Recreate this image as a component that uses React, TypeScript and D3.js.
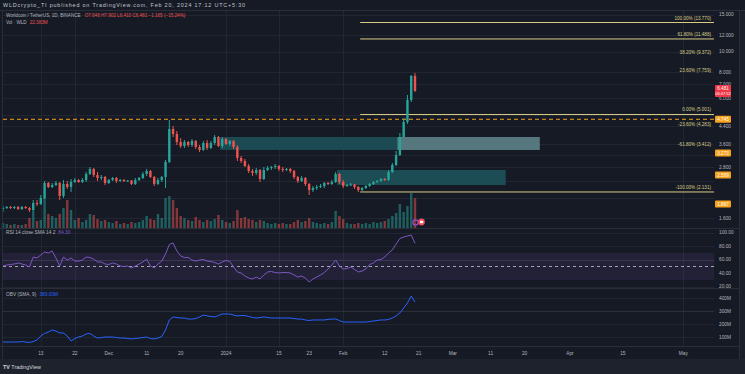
import React from "react";
import * as d3 from "d3";

// ---------- data ----------
const HEADER = "WLDcrypto_TI published on TradingView.com, Feb 20, 2024 17:12 UTC+5:30";
const SYMBOL = "Worldcoin / TetherUS, 1D, BINANCE";
const VOL_NAME = "Vol · WLD";

const OPEN = [
  1.767, 1.786, 1.806, 1.786, 1.806, 1.767, 1.806, 1.786, 1.747, 1.887,
  1.867, 1.994, 2.352, 2.251, 2.301, 2.352, 2.039, 2.327, 2.251, 2.379,
  2.432, 2.379, 2.432, 2.598, 2.745, 2.569, 2.486, 2.513, 2.352, 2.432,
  2.486, 2.405, 2.432, 2.405, 2.418, 2.327, 2.432, 2.486, 2.598, 2.685,
  2.513, 2.327, 2.432, 2.513, 2.965, 4.264, 4.035, 3.695, 3.536, 3.695,
  3.575, 3.736, 3.497, 3.384, 3.655, 3.459, 3.655, 3.904, 3.536, 3.819,
  3.615, 3.736, 3.497, 3.098, 2.997, 2.837, 2.685, 2.626, 2.715, 2.458,
  2.715, 2.775, 2.806, 2.837, 2.745, 2.715, 2.745, 2.685, 2.513, 2.405,
  2.486, 2.327, 2.178, 2.226, 2.251, 2.276, 2.352, 2.327, 2.379, 2.598,
  2.379, 2.276, 2.301, 2.314, 2.251, 2.178, 2.226, 2.276, 2.327, 2.379,
  2.405, 2.458, 2.432, 2.655, 2.868, 3.202, 3.904, 4.605, 5.869, 7.646,
];
const HIGH = [
  1.826, 1.826, 1.826, 1.826, 1.826, 1.826, 1.826, 1.806, 1.951, 1.951,
  2.061, 2.405, 2.379, 2.352, 2.405, 2.379, 2.432, 2.405, 2.458, 2.486,
  2.458, 2.486, 2.655, 2.806, 2.775, 2.655, 2.569, 2.541, 2.458, 2.513,
  2.513, 2.458, 2.458, 2.432, 2.432, 2.486, 2.513, 2.655, 2.745, 2.715,
  2.541, 2.486, 2.541, 3.031, 4.708, 4.407, 4.171, 3.862, 3.777, 3.736,
  3.819, 3.777, 3.575, 3.736, 3.777, 3.736, 3.991, 3.948, 3.904, 3.862,
  3.777, 3.777, 3.575, 3.167, 3.064, 2.900, 2.745, 2.775, 2.745, 2.806,
  2.837, 2.837, 2.900, 2.868, 2.806, 2.775, 2.775, 2.715, 2.541, 2.541,
  2.513, 2.352, 2.276, 2.301, 2.327, 2.379, 2.379, 2.432, 2.655, 2.626,
  2.432, 2.327, 2.352, 2.327, 2.276, 2.251, 2.301, 2.352, 2.405, 2.432,
  2.486, 2.486, 2.715, 2.932, 3.346, 4.080, 4.813, 6.201, 7.730, 7.902,
];
const LOW = [
  1.709, 1.767, 1.767, 1.767, 1.747, 1.747, 1.767, 1.709, 1.728, 1.826,
  1.846, 1.972, 2.226, 2.226, 2.276, 1.951, 1.994, 2.202, 2.131, 2.352,
  2.352, 2.352, 2.379, 2.569, 2.513, 2.405, 2.432, 2.301, 2.327, 2.405,
  2.352, 2.379, 2.379, 2.379, 2.301, 2.301, 2.405, 2.458, 2.541, 2.486,
  2.276, 2.301, 2.379, 2.226, 2.932, 3.904, 3.575, 3.459, 3.459, 3.497,
  3.497, 3.421, 3.309, 3.346, 3.384, 3.421, 3.575, 3.497, 3.459, 3.575,
  3.536, 3.421, 2.997, 2.932, 2.806, 2.626, 2.541, 2.569, 2.379, 2.432,
  2.685, 2.715, 2.745, 2.685, 2.655, 2.685, 2.626, 2.458, 2.352, 2.379,
  2.276, 2.061, 2.131, 2.178, 2.226, 2.226, 2.301, 2.301, 2.352, 2.327,
  2.226, 2.251, 2.276, 2.202, 2.131, 2.154, 2.202, 2.251, 2.301, 2.352,
  2.379, 2.405, 2.405, 2.626, 2.837, 3.167, 3.862, 4.505, 5.741, 6.410,
];
const CLOSE = [
  1.786, 1.806, 1.786, 1.806, 1.767, 1.806, 1.786, 1.747, 1.887, 1.867,
  1.994, 2.352, 2.251, 2.301, 2.352, 2.039, 2.327, 2.251, 2.379, 2.432,
  2.379, 2.432, 2.598, 2.745, 2.569, 2.486, 2.513, 2.352, 2.432, 2.486,
  2.405, 2.432, 2.405, 2.418, 2.327, 2.432, 2.486, 2.598, 2.685, 2.513,
  2.327, 2.432, 2.513, 2.965, 4.264, 4.035, 3.695, 3.536, 3.695, 3.575,
  3.736, 3.497, 3.384, 3.655, 3.459, 3.655, 3.904, 3.536, 3.819, 3.615,
  3.736, 3.497, 3.098, 2.997, 2.837, 2.685, 2.626, 2.715, 2.458, 2.715,
  2.775, 2.806, 2.837, 2.745, 2.715, 2.745, 2.685, 2.513, 2.405, 2.486,
  2.327, 2.178, 2.226, 2.251, 2.276, 2.352, 2.327, 2.379, 2.598, 2.379,
  2.276, 2.301, 2.314, 2.251, 2.178, 2.226, 2.276, 2.327, 2.379, 2.405,
  2.458, 2.432, 2.655, 2.868, 3.202, 3.904, 4.605, 5.869, 7.646, 6.481,
];
// volume in millions
const VOLUME = [
  3.75, 3, 2.25, 3, 2.25, 2.25, 3, 7.5, 12.75, 5.25,
  6, 22.5, 10.5, 9, 7.5, 10.5, 15, 21, 13.5, 6,
  7.5, 4.5, 6, 10.5, 9.75, 6.75, 5.25, 6, 4.5, 3.75,
  5.25, 3, 3.75, 3, 4.5, 3.75, 4.5, 6, 9, 6.75,
  6, 10.5, 7.5, 22.5, 24, 21, 15, 9, 7.5, 6,
  5.25, 8.25, 6, 4.5, 6, 5.25, 6.75, 9.75, 6, 4.5,
  3.75, 5.25, 13.5, 7.5, 8.25, 6.75, 6, 4.5, 6, 5.25,
  3.75, 3, 3.75, 3, 3.75, 3, 3, 4.5, 6, 4.5,
  5.25, 7.5, 4.5, 3.75, 3, 3.75, 3, 4.5, 12.75, 9,
  6.75, 3.75, 3, 3, 3.75, 3, 3.75, 3, 4.5, 3.75,
  4.5, 5.25, 6.75, 9, 11.25, 18, 12, 16.5, 26.25, 22.383,
];
const RSI = [
  50.7, 52.2, 53, 53.7, 55.2, 53.7, 52.2, 49.3, 64, 62.6,
  67, 71.5, 70, 73, 62.6, 50.7, 64, 59.6, 62.6, 58,
  58, 59.6, 64, 63.3, 61, 56.7, 56.7, 53.7, 53, 55.2,
  53.7, 50.7, 50, 50.7, 47.8, 50.7, 53.7, 56.7, 61, 50.7,
  47.8, 53.7, 58, 68.5, 82.6, 84.8, 73, 65.6, 63.3, 63.3,
  59.6, 58, 59.6, 60.4, 58, 57.4, 55.9, 53.7, 56.7, 58.9,
  57.4, 49.3, 41.9, 40.4, 35.9, 33, 31.5, 34.4, 31.5, 37.4,
  41.9, 42.6, 41.1, 40.4, 41.1, 41.1, 40.4, 37.4, 34.4, 35.9,
  33, 27, 31.5, 34.4, 37.4, 41.1, 46.3, 52.2, 59.6, 50.7,
  46.3, 47, 49.3, 45.6, 41.9, 43.3, 46.3, 53, 55.2, 59.6,
  60.4, 64, 70, 74.4, 83.3, 91.5, 93.7, 95.2, 96.6, 84.3,
];
// OBV in millions
const OBV = [
  62, 61, 62, 61, 62, 65, 61, 58, 65, 77,
  108, 127, 138, 154, 146, 131, 131, 108, 69, 88,
  100, 108, 123, 127, 108, 92, 96, 100, 100, 100,
  96, 92, 92, 88, 85, 88, 92, 96, 100, 88,
  85, 92, 104, 154, 231, 254, 250, 246, 246, 238,
  238, 242, 254, 269, 262, 258, 254, 265, 277, 277,
  277, 269, 262, 265, 265, 258, 250, 246, 250, 254,
  250, 246, 246, 246, 246, 246, 246, 242, 238, 238,
  231, 227, 231, 231, 231, 231, 235, 238, 238, 227,
  215, 215, 215, 215, 215, 215, 215, 219, 223, 227,
  231, 231, 235, 246, 262, 285, 323, 362, 415, 369,
];

const PRICE_TICKS = [1.6, 2.0, 2.4, 2.8, 3.2, 3.6, 4.4, 5.0, 6.0, 7.0, 8.0, 10.0, 12.0, 15.0];
const RSI_TICKS = [20, 40, 60, 80, 100];
const OBV_TICKS = [100, 200, 300, 400];

// [year, month(0-based), day, label, gridline]
const X_TICKS: [number, number, number, string, boolean][] = [
  [2023, 10, 13, "13", true], [2023, 10, 22, "22", true], [2023, 11, 1, "Dec", false],
  [2023, 11, 11, "11", false], [2023, 11, 20, "20", false], [2024, 0, 1, "2024", true],
  [2024, 0, 15, "15", true], [2024, 0, 23, "23", false], [2024, 1, 1, "Feb", true],
  [2024, 1, 12, "12", false], [2024, 1, 21, "21", false], [2024, 2, 1, "Mar", false],
  [2024, 2, 11, "11", false], [2024, 2, 20, "20", false], [2024, 3, 1, "Apr", false],
  [2024, 3, 15, "15", false], [2024, 4, 1, "May", true],
];

const FIB_PRICES = [13.77, 11.488, 9.372, 7.759, 5.001, 4.283, 3.412, 2.131];
const FIB_LABELS = [
  "100.00% (13.770)", "61.80% (11.488)", "38.20% (9.372)", "23.60% (7.759)",
  "0.00% (5.001)", "-23.60% (4.283)", "-61.80% (3.412)", "-100.00% (2.131)",
];
const FIB_LINE_VISIBLE = [true, true, false, false, true, false, false, true];

// zones: [startDate, endDate, top price, bottom price, fill]
const ZONES: [Date, Date, number, number, string][] = [
  [new Date(2023, 11, 30, 10), new Date(2024, 2, 24), 3.904, 3.384, "#1c4a53"],
  [new Date(2024, 1, 15, 8), new Date(2024, 2, 24), 3.904, 3.384, "#57777f"],
  [new Date(2024, 0, 30, 10), new Date(2024, 2, 15), 2.715, 2.301, "#1c4d55"],
];
const ORANGE_LINE_PRICE = 4.745;
const ORANGE_LABELS = [4.745, 3.273, 2.569, 1.867];

const GREEN = "#26a69a";
const RED = "#ef5350";
const BG = "#161a25";
const GRID = "#222632";
const SEP = "#2a2e39";
const TXT = "#b2b5be";
const FONT = "'Liberation Sans', Arial, sans-serif";

export default function App() {
  const dates = d3.timeDay.range(new Date(2023, 10, 3), new Date(2024, 1, 21));
  const N = CLOSE.length;
  const PL = 3, PR = 714;

  const x = d3.scaleTime().domain([dates[0], dates[N - 1]]).range([3, 415]);
  const y = d3.scaleLog().domain([1.6, 12]).range([218, 35]);
  const vy = d3.scaleLinear().domain([0, 30]).range([228, 188]);
  const ry = d3.scaleLinear().domain([0, 100]).range([300.25, 232.75]);
  const oy = d3.scaleLinear().domain([0, 400]).range([350, 298]);
  const f3 = d3.format(".3f");

  const rsiLine = d3.line<number>().x((_, i) => x(dates[i])).y((d) => ry(d));
  const obvLine = d3.line<number>().x((_, i) => x(dates[i])).y((d) => oy(d));

  const last = N - 1;
  const chg = CLOSE[last] - CLOSE[last - 1];
  const chgPct = (chg / CLOSE[last - 1]) * 100;
  const bw = 2.4;

  // axis labels hidden behind value boxes (like TradingView does)
  const boxYs = [...ORANGE_LABELS.map((p) => y(p)), y(CLOSE[last])];
  const visibleTicks = PRICE_TICKS.filter((p) => boxYs.every((by) => Math.abs(y(p) - by) > 6.5));

  return (
    <svg width={745} height={374} style={{ position: "fixed", left: 0, top: 0 }} fontFamily={FONT}>
      <rect x={0} y={0} width={745} height={374} fill={BG} />
      {/* header */}
      <text x={3} y={6.8} fontSize={5.4} fill="#c3c6ce" textLength={242} lengthAdjust="spacing">{HEADER}</text>
      <line x1={0} x2={745} y1={10.5} y2={10.5} stroke={SEP} />

      {/* vertical grid */}
      {X_TICKS.filter((t) => t[4]).map((t, i) => {
        const xx = Math.round(x(new Date(t[0], t[1], t[2]))) + 0.5;
        return <line key={"vg" + i} x1={xx} x2={xx} y1={11} y2={346} stroke={GRID} />;
      })}

      {/* horizontal grid main */}
      {PRICE_TICKS.map((p, i) => (
        <line key={"hg" + i} x1={PL} x2={PR} y1={Math.round(y(p)) + 0.5} y2={Math.round(y(p)) + 0.5} stroke={GRID} />
      ))}

      {/* zones */}
      {ZONES.map((z, i) => (
        <rect key={"z" + i} x={x(z[0])} y={y(z[2])} width={x(z[1]) - x(z[0])} height={y(z[3]) - y(z[2])} fill={z[4]} />
      ))}

      {/* orange dashed line */}
      <line x1={PL} x2={PR} y1={y(ORANGE_LINE_PRICE)} y2={y(ORANGE_LINE_PRICE)} stroke="#f7a21b" strokeWidth={1} strokeDasharray="4 3" />

      {/* fib lines and labels */}
      {FIB_PRICES.map((p, i) => (
        <g key={"f" + i}>
          {FIB_LINE_VISIBLE[i] && (
            <line x1={x(new Date(2024, 1, 5, 12))} x2={PR} y1={y(p)} y2={y(p)} stroke="#d9cc85" strokeWidth={1} />
          )}
          <text x={711} y={y(p) - 3} fontSize={4.6} fill="#d9cc85" textAnchor="end">{FIB_LABELS[i]}</text>
        </g>
      ))}

      {/* volume */}
      {VOLUME.map((v, i) => {
        const up = CLOSE[i] >= OPEN[i];
        return (
          <rect key={"v" + i} x={x(dates[i]) - bw / 2} y={vy(v)} width={bw} height={vy(0) - vy(v)}
            fill={up ? "rgba(38,166,154,0.5)" : "rgba(239,83,80,0.5)"} />
        );
      })}

      {/* candles */}
      {CLOSE.map((c, i) => {
        const o = OPEN[i];
        const up = c >= o;
        const col = up ? GREEN : RED;
        const cx = x(dates[i]);
        const top = y(Math.max(o, c));
        const bot = y(Math.min(o, c));
        return (
          <g key={"c" + i}>
            <rect x={cx - 0.5} y={y(HIGH[i])} width={1} height={y(LOW[i]) - y(HIGH[i])} fill={col} />
            <rect x={cx - bw / 2} y={top} width={bw} height={Math.max(1, bot - top)} fill={col} />
          </g>
        );
      })}

      {/* event icons */}
      <circle cx={x(dates[last]) + 0.5} cy={222.5} r={2.6} fill="none" stroke="#9c4dcc" strokeWidth={1.2} />
      <circle cx={x(dates[last]) + 6.5} cy={222} r={3.4} fill="#e94b5b" />
      <rect x={x(dates[last]) + 5} y={220.8} width={3.2} height={2.4} fill="#ffffff" />

      {/* legend */}
      <text x={6} y={17} fontSize={4.6} fill={TXT}>
        {SYMBOL}
        <tspan fill={RED} dx={4}>{`O${f3(OPEN[last])} H${f3(HIGH[last])} L${f3(LOW[last])} C${f3(CLOSE[last])} ${chg < 0 ? "−" : "+"}${f3(Math.abs(chg))} (${chg < 0 ? "−" : "+"}${Math.abs(chgPct).toFixed(2)}%)`}</tspan>
      </text>
      <text x={6} y={24} fontSize={4.6} fill={TXT}>
        {VOL_NAME}
        <tspan fill={RED} dx={3}>{`${VOLUME[last].toFixed(3)}M`}</tspan>
      </text>

      {/* pane separators */}
      <line x1={0} x2={740} y1={228.5} y2={228.5} stroke={SEP} />
      <line x1={0} x2={740} y1={288.5} y2={288.5} stroke={SEP} />
      <line x1={0} x2={740} y1={346.5} y2={346.5} stroke={SEP} />

      {/* RSI pane */}
      <rect x={PL} y={ry(70)} width={PR - PL} height={ry(30) - ry(70)} fill="rgba(126,87,194,0.12)" />
      {RSI_TICKS.map((t, i) => (
        <line key={"rg" + i} x1={PL} x2={PR} y1={Math.round(ry(t)) + 0.5} y2={Math.round(ry(t)) + 0.5}
          stroke={t === 60 ? "#3a3650" : GRID} />
      ))}
      <line x1={PL} x2={PR} y1={ry(50)} y2={ry(50)} stroke="#a3a6af" strokeDasharray="3 3" strokeWidth={1} />
      <path d={rsiLine(RSI) || ""} fill="none" stroke="#7e57c2" strokeWidth={1} />
      <text x={6} y={234} fontSize={4.8} fill={TXT}>
        RSI 14 close SMA 14 2
        <tspan fill="#7e57c2" dx={3}>{RSI[last].toFixed(2)}</tspan>
      </text>

      {/* OBV pane */}
      {OBV_TICKS.map((t, i) => (
        <line key={"og" + i} x1={PL} x2={PR} y1={Math.round(oy(t)) + 0.5} y2={Math.round(oy(t)) + 0.5}
          stroke={t === 300 ? "#2c303b" : GRID} />
      ))}
      <path d={obvLine(OBV) || ""} fill="none" stroke="#2962ff" strokeWidth={1} />
      <text x={6} y={296} fontSize={4.8} fill={TXT}>
        OBV (SMA, 9)
        <tspan fill="#2962ff" dx={3}>{`${OBV[last].toFixed(2)}M`}</tspan>
      </text>

      {/* price axis labels */}
      {visibleTicks.map((p, i) => (
        <text key={"pt" + i} x={719} y={y(p)} dy="0.35em" fontSize={4.8} fill={TXT}>{f3(p)}</text>
      ))}
      {ORANGE_LABELS.map((p, i) => (
        <g key={"ol" + i}>
          <rect x={715} y={y(p) - 3.5} width={16} height={7} rx={1} fill="#f7a21b" />
          <text x={723} y={y(p)} dy="0.35em" fontSize={4.6} fill="#ffffff" textAnchor="middle">{f3(p)}</text>
        </g>
      ))}
      <rect x={715} y={y(CLOSE[last]) - 6} width={16} height={12} rx={1} fill="#f23645" />
      <text x={723} y={y(CLOSE[last]) - 2.2} dy="0.35em" fontSize={4.6} fill="#ffffff" textAnchor="middle">{f3(CLOSE[last])}</text>
      <text x={723} y={y(CLOSE[last]) + 2.6} dy="0.35em" fontSize={4} fill="#ffffff" textAnchor="middle">06:47:52</text>

      {RSI_TICKS.map((t, i) => (
        <text key={"rt" + i} x={719} y={ry(t)} dy="0.35em" fontSize={4.8} fill={TXT}>{t.toFixed(2)}</text>
      ))}
      {OBV_TICKS.map((t, i) => (
        <text key={"ot" + i} x={719} y={oy(t)} dy="0.35em" fontSize={4.8} fill={TXT}>{`${t}M`}</text>
      ))}

      {/* time axis */}
      {X_TICKS.map((t, i) => (
        <text key={"xt" + i} x={x(new Date(t[0], t[1], t[2]))} y={355} fontSize={4.8} fill={TXT} textAnchor="middle">{t[3]}</text>
      ))}

      {/* right edge and footer */}
      <line x1={739.5} x2={739.5} y1={11} y2={359} stroke={SEP} />
      <rect x={740} y={11} width={5} height={348} fill="#1b1f2a" />
      <line x1={2.5} x2={2.5} y1={11} y2={359} stroke={SEP} />
      <rect x={0} y={359} width={745} height={15} fill="#1e222d" />
      <text x={3} y={369} fontSize={5.4} fill="#d1d4dc">
        <tspan fontWeight="bold">TV</tspan> TradingView
      </text>
    </svg>
  );
}
